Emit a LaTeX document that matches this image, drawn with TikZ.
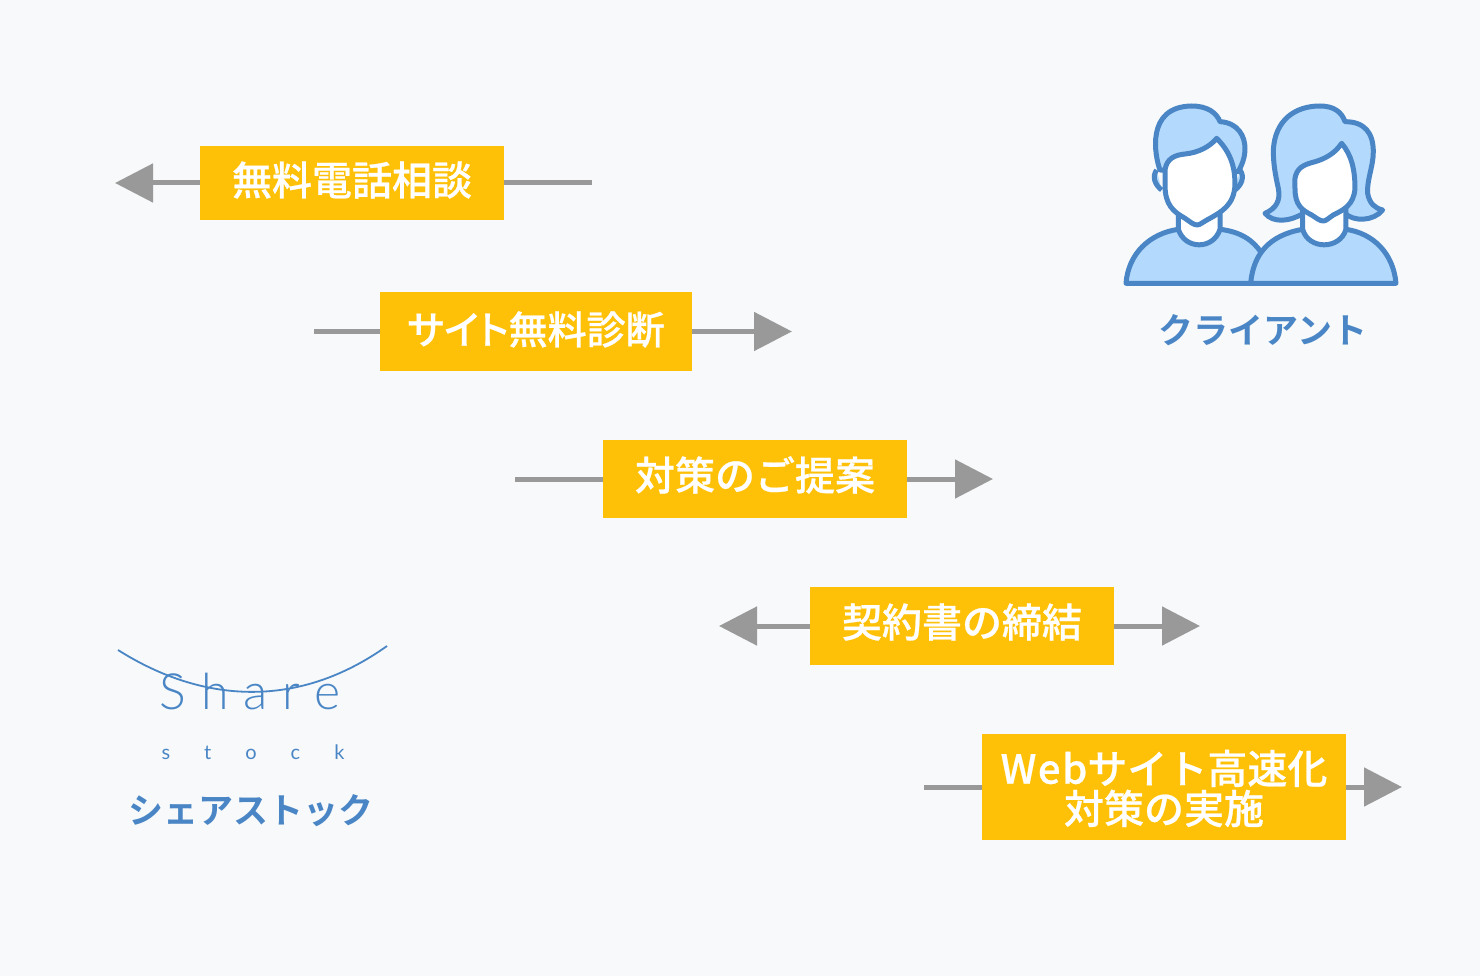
\documentclass[tikz,border=0pt]{standalone}
\usepackage{fontspec}
\setmainfont{Noto Sans CJK JP Medium}[FakeBold=0.6]
\newfontfamily\paltfont{Noto Sans CJK JP Medium}[FakeBold=0.6,RawFeature=+palt]
\newfontfamily\partyfont{Noto Sans CJK JP Bold}
\newfontfamily\logofont{Lato Light}
\newfontfamily\stockfont{Lato}
\usepackage{tikz}
\usetikzlibrary{arrows.meta}
\definecolor{pagebg}{HTML}{F7F9FB}
\definecolor{boxcol}{HTML}{FFC107}
\definecolor{linecol}{HTML}{999999}
\definecolor{iconline}{HTML}{4A86C5}
\definecolor{iconfill}{HTML}{B3D9FC}
\newcommand{\liftup}[2]{\raisebox{#1}[\height][\depth]{#2}}
\tikzset{
    stepbox/.style={fill=boxcol, text=white, inner sep=0pt, align=center,
        font=\fontsize{40}{40}\selectfont},
    flow/.style={draw=linecol, line width=5pt},
    flowtip/.style={flow, -{Triangle[length=38pt,width=38pt]}, color=linecol},
    partyname/.style={text=iconline, inner sep=0pt, font=\fontsize{35}{36}\selectfont\partyfont},
    skin/.style={draw=iconline, fill=white, line width=5pt, line join=round},
    cloth/.style={draw=iconline, fill=iconfill, line width=5pt, line join=round}
}
\begin{document}
\begin{tikzpicture}[x=1pt,y=-1pt]
            \fill[pagebg] (0,0) rectangle (1480,976);
            % steps
            \node[stepbox, minimum width=304pt, minimum height=74pt] (soudan) at (352,183) {\liftup{3pt}{無料電話相談}};
            \node[stepbox, minimum width=312pt, minimum height=78pt] (shindan) at (536,331.5) {\liftup{2pt}{\fontsize{39}{40}\selectfont\paltfont サイト無料診断}};
            \node[stepbox, minimum width=304pt, minimum height=78pt] (teian) at (755,479) {\liftup{4pt}{対策のご提案}};
            \node[stepbox, minimum width=304pt, minimum height=78pt] (keiyaku) at (962,626) {\liftup{4pt}{契約書の締結}};
            \node[stepbox, minimum width=364pt, minimum height=106pt] (taisaku) at (1164,787) {\liftup{-2pt}{{\addfontfeature{LetterSpace=4}Web}サイト高速化}\\[1pt]\liftup{-1pt}{対策の実施}};
            % free ends
            \coordinate (soudanL) at (115,183);
            \coordinate (soudanR) at (592,183);
            \coordinate (shindanL) at (314,331.5);
            \coordinate (shindanR) at (792,331.5);
            \coordinate (teianL) at (515,479);
            \coordinate (teianR) at (993,479);
            \coordinate (keiyakuL) at (719,626);
            \coordinate (keiyakuR) at (1200,626);
            \coordinate (taisakuL) at (924,787);
            \coordinate (taisakuR) at (1402,787);
            \draw[flowtip] (soudan) -- (soudanL);
            \draw[flow] (soudan) -- (soudanR);
            \draw[flow] (shindan) -- (shindanL);
            \draw[flowtip] (shindan) -- (shindanR);
            \draw[flow] (teian) -- (teianL);
            \draw[flowtip] (teian) -- (teianR);
            \draw[flowtip] (keiyaku) -- (keiyakuL);
            \draw[flowtip] (keiyaku) -- (keiyakuR);
            \draw[flow] (taisaku) -- (taisakuL);
            \draw[flowtip] (taisaku) -- (taisakuR);
            % client icon
            \begin{scope}[shift={(1110,90)}, x=0.3333pt, y=-0.3333pt]
                \draw[cloth] (48,580) .. controls (55,490) and (120,430) .. (205,418) -- (330,418) .. controls (390,425) and (430,450) .. (455,490) -- (430,580) -- cycle;
                \draw[skin] (205,370) -- (205,418) .. controls (225,480) and (310,480) .. (330,418) -- (330,370) -- cycle;
                \draw[cloth] (150,240) .. controls (135,200) and (105,50) .. (245,48) .. controls (295,48) and (320,70) .. (330,95) .. controls (385,98) and (405,140) .. (405,175) .. controls (405,205) and (395,225) .. (385,245) -- cycle;
                \draw[cloth] (140,240) .. controls (125,260) and (135,285) .. (155,300);
                \draw[cloth] (390,240) .. controls (405,260) and (395,285) .. (375,300);
                \draw[skin] (165,240) .. controls (170,205) and (195,195) .. (225,192) .. controls (265,188) and (300,170) .. (320,145) .. controls (365,190) and (375,235) .. (375,285) .. controls (372,345) and (335,365) .. (300,385) .. controls (280,395) and (270,405) .. (262,405) .. controls (250,405) and (240,395) .. (225,385) .. controls (190,365) and (165,345) .. (165,285) -- cycle;
                \draw[cloth] (422,580) .. controls (430,490) and (480,435) .. (578,418) -- (708,418) .. controls (790,430) and (850,490) .. (858,580) -- cycle;
                \draw[cloth] (465,370) .. controls (500,355) and (512,330) .. (505,295) .. controls (495,250) and (490,220) .. (490,180) .. controls (495,90) and (555,48) .. (630,48) .. controls (670,48) and (695,65) .. (705,95) .. controls (765,95) and (790,130) .. (790,185) .. controls (790,230) and (770,270) .. (773,310) .. controls (778,340) and (795,355) .. (818,360) .. controls (790,395) and (730,395) .. (705,370) -- (580,370) .. controls (540,395) and (490,400) .. (465,370) -- cycle;
                \draw[skin] (578,350) -- (578,418) .. controls (595,480) and (690,480) .. (708,418) -- (708,350) -- cycle;
                \draw[skin] (555,265) .. controls (560,235) and (580,225) .. (605,218) .. controls (645,208) and (675,190) .. (695,160) .. controls (725,195) and (735,240) .. (735,295) .. controls (732,345) and (700,360) .. (670,375) .. controls (655,385) and (648,393) .. (640,393) .. controls (630,393) and (620,385) .. (605,375) .. controls (575,360) and (555,345) .. (555,295) -- cycle;
            \end{scope}
            \node[partyname] (client) at (1263,330) {クライアント};
            % share stock logo
            \node[text=iconline, inner sep=0pt, font=\fontsize{50}{50}\selectfont\logofont] (logoshare) at (250,692) {\addfontfeature{LetterSpace=30}Share};
            \draw[iconline, line width=1.8pt] (118,650) .. controls (205,705) and (300,708) .. (387,646);
            \node[text=iconline, inner sep=0pt, font=\fontsize{20}{20}\selectfont\stockfont] (logostock) at (253,752) {\addfontfeature{LetterSpace=170}stock};
            \node[partyname] (shareco) at (251,811) {シェアストック};
        \end{tikzpicture}
\end{document}
